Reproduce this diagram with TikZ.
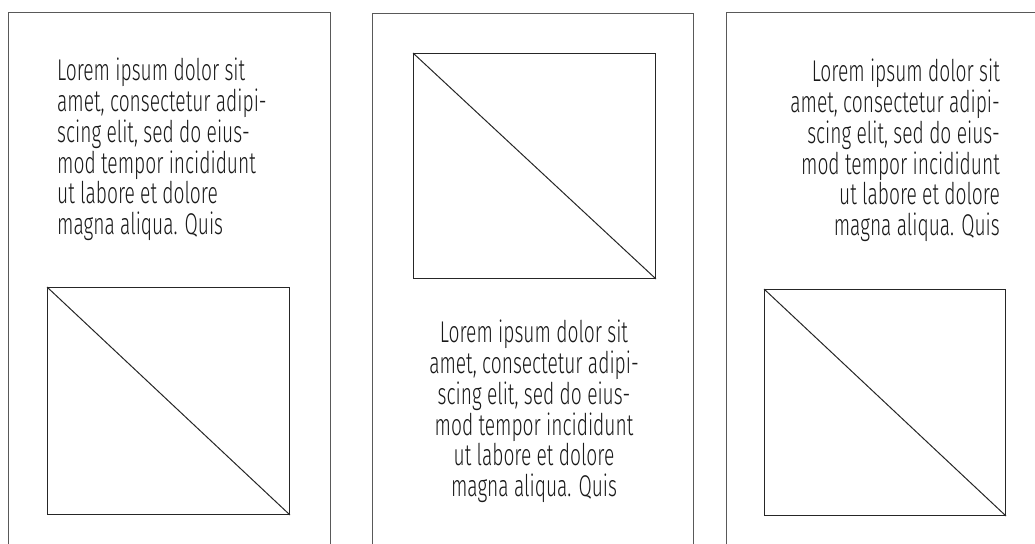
\documentclass[tikz,border=0pt]{standalone}
\usepackage{fontspec}
\setmainfont{Fira Sans}[UprightFont=* Light, FakeStretch=0.64]
\usepackage{tikz}

\tikzset{
  panel/.style={draw=black!65, line width=0.9pt},
  frame/.style={draw=black!85, line width=1pt, inner sep=0pt},
  blurb/.style={inner sep=0pt, font=\fontsize{30}{30.8}\selectfont, text=black!90},
}

\begin{document}
\begin{tikzpicture}[x=1pt,y=-1pt]
\useasboundingbox (0,0) rectangle (1035,543);

% panels, open at the bottom
\draw[panel] (8,546) -- (8,12) -- (330,12) -- (330,546);
\draw[panel] (372,546) -- (372,13.5) -- (693,13.5) -- (693,546);
\draw[panel] (726,546) -- (726,12) -- (1037,12);

% picture boxes
\node[frame, anchor=north west, minimum width=242pt, minimum height=227pt] (imgA) at (47,287) {};
\node[frame, anchor=north west, minimum width=242pt, minimum height=225pt] (imgB) at (413,53) {};
\node[frame, anchor=north west, minimum width=241pt, minimum height=226pt] (imgC) at (764,289) {};

\draw[frame] (imgA.north west) -- (imgA.south east);
\draw[frame] (imgB.north west) -- (imgB.south east);
\draw[frame] (imgC.north west) -- (imgC.south east);

% text blocks
\node[blurb, anchor=north west, align=left] (textA) at (57,58) {Lorem ipsum dolor sit\\amet, consectetur adipi-\\scing elit, sed do eius-\\mod tempor incididunt\\ut labore et dolore\\magna aliqua. Quis};
\node[blurb, anchor=north, align=center] (textB) at (534,320) {Lorem ipsum dolor sit\\amet, consectetur adipi-\\scing elit, sed do eius-\\mod tempor incididunt\\ut labore et dolore\\magna aliqua. Quis};
\node[blurb, anchor=north east, align=right] (textC) at (1000,59) {Lorem ipsum dolor sit\\amet, consectetur adipi-\\scing elit, sed do eius-\\mod tempor incididunt\\ut labore et dolore\\magna aliqua. Quis};

\end{tikzpicture}
\end{document}
